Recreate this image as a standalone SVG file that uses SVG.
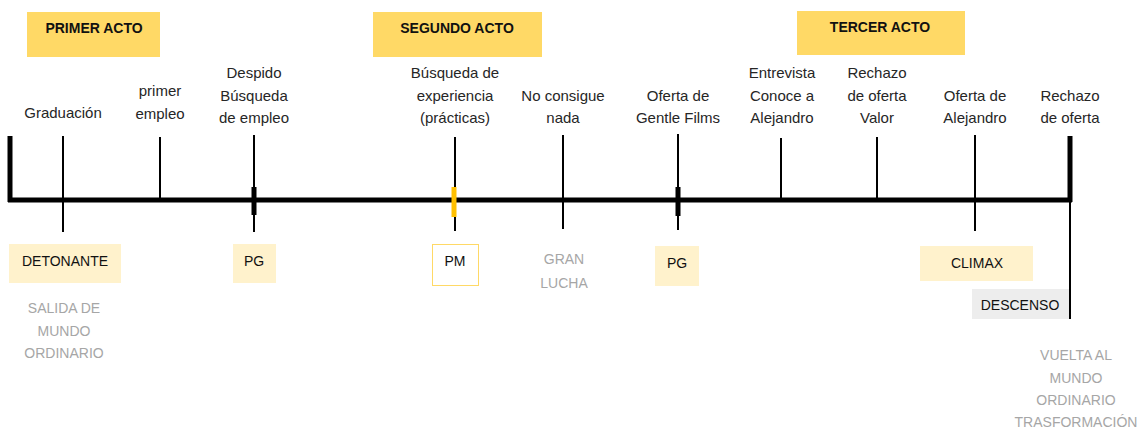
<svg xmlns="http://www.w3.org/2000/svg" width="1142" height="429" viewBox="0 0 1142 429">
<style>
.act{fill:#FFD966}
.actt{font-family:"Liberation Sans",Arial,sans-serif;font-size:14px;font-weight:bold;fill:#111;text-anchor:middle}
.lbl{font-family:"Liberation Sans",Arial,sans-serif;font-size:15px;fill:#262626;text-anchor:middle}
.box{fill:#FFF2CC}
.bt{font-family:"Liberation Sans",Arial,sans-serif;font-size:14px;fill:#111;text-anchor:middle}
.gray{font-family:"Liberation Sans",Arial,sans-serif;font-size:14px;fill:#A6A6A6;text-anchor:middle}
.tick{stroke:#000;stroke-width:2;fill:none}
.thick{stroke:#000;stroke-width:5;fill:none}
</style>
<rect width="1142" height="429" fill="#fff"/>
<g id="acts">
<g id="act1"><rect class="act" x="27" y="12" width="133" height="45"/><text class="actt" x="94" y="33">PRIMER ACTO</text></g>
<g id="act2"><rect class="act" x="373" y="12" width="169" height="45"/><text class="actt" x="457" y="33">SEGUNDO ACTO</text></g>
<g id="act3"><rect class="act" x="797" y="11" width="168" height="44"/><text class="actt" x="880" y="32">TERCER ACTO</text></g>
</g>
<g id="connectors">
<line class="thick" x1="8" y1="200" x2="1072" y2="200"/>
<line class="thick" x1="10" y1="136" x2="10" y2="202"/>
<line class="thick" x1="1070" y1="136" x2="1070" y2="202"/>
<line class="tick" x1="1070" y1="200" x2="1070" y2="319"/>
<line class="tick" x1="63" y1="136" x2="63" y2="232"/>
<line class="tick" x1="160" y1="137" x2="160" y2="200"/>
<line class="tick" x1="254" y1="135" x2="254" y2="232"/>
<line x1="254" y1="187" x2="254" y2="215" stroke="#000" stroke-width="5"/>
<line class="tick" x1="455" y1="137" x2="455" y2="231"/>
<line x1="454" y1="187" x2="454" y2="217" stroke="#FFC000" stroke-width="5"/>
<line class="tick" x1="563" y1="135" x2="563" y2="229"/>
<line class="tick" x1="678" y1="134" x2="678" y2="230"/>
<line x1="678" y1="187" x2="678" y2="216" stroke="#000" stroke-width="5"/>
<line class="tick" x1="781" y1="138" x2="781" y2="200"/>
<line class="tick" x1="877" y1="137" x2="877" y2="200"/>
<line class="tick" x1="975" y1="135" x2="975" y2="231"/>
</g>
<g id="ev-graduacion"><text class="lbl" x="63" y="118">Graduación</text></g>
<g id="ev-primer-empleo"><text class="lbl" x="160" y="96">primer</text><text class="lbl" x="160" y="119">empleo</text></g>
<g id="ev-despido"><text class="lbl" x="254" y="78">Despido</text><text class="lbl" x="254" y="101">Búsqueda</text><text class="lbl" x="254" y="123">de empleo</text></g>
<g id="ev-busqueda"><text class="lbl" x="455" y="78">Búsqueda de</text><text class="lbl" x="455" y="101">experiencia</text><text class="lbl" x="455" y="123">(prácticas)</text></g>
<g id="ev-noconsigue"><text class="lbl" x="563" y="101">No consigue</text><text class="lbl" x="563" y="123">nada</text></g>
<g id="ev-gentle"><text class="lbl" x="678" y="101">Oferta de</text><text class="lbl" x="678" y="123">Gentle Films</text></g>
<g id="ev-entrevista"><text class="lbl" x="782" y="78">Entrevista</text><text class="lbl" x="782" y="101">Conoce a</text><text class="lbl" x="782" y="123">Alejandro</text></g>
<g id="ev-valor"><text class="lbl" x="877" y="78">Rechazo</text><text class="lbl" x="877" y="101">de oferta</text><text class="lbl" x="877" y="123">Valor</text></g>
<g id="ev-alejandro"><text class="lbl" x="975" y="101">Oferta de</text><text class="lbl" x="975" y="123">Alejandro</text></g>
<g id="ev-rechazo"><text class="lbl" x="1070" y="101">Rechazo</text><text class="lbl" x="1070" y="123">de oferta</text></g>
<g id="detonante"><rect class="box" x="9" y="244" width="112" height="39"/><text class="bt" x="65" y="266">DETONANTE</text></g>
<g id="salida"><text class="gray" x="64" y="313">SALIDA DE</text><text class="gray" x="64" y="336">MUNDO</text><text class="gray" x="64" y="358">ORDINARIO</text></g>
<g id="pg1"><rect class="box" x="233" y="244" width="43" height="39"/><text class="bt" x="254" y="266">PG</text></g>
<g id="pm"><rect x="432.5" y="244.5" width="46" height="41" fill="#fff" stroke="#FFD966" stroke-width="1"/><text class="bt" x="455" y="266">PM</text></g>
<g id="granlucha"><text class="gray" x="564" y="264">GRAN</text><text class="gray" x="564" y="288">LUCHA</text></g>
<g id="pg2"><rect class="box" x="655" y="246" width="44" height="40"/><text class="bt" x="677" y="268">PG</text></g>
<g id="climax"><rect class="box" x="920" y="246" width="113" height="35"/><text class="bt" x="977" y="268">CLIMAX</text></g>
<g id="descenso"><rect x="972" y="289" width="97" height="30" fill="#EDEDED"/><text class="bt" x="1020" y="310">DESCENSO</text></g>
<g id="vuelta"><text class="gray" x="1076" y="360">VUELTA AL</text><text class="gray" x="1076" y="383">MUNDO</text><text class="gray" x="1076" y="405">ORDINARIO</text><text class="gray" x="1076" y="427">TRASFORMACIÓN</text></g>
</svg>
